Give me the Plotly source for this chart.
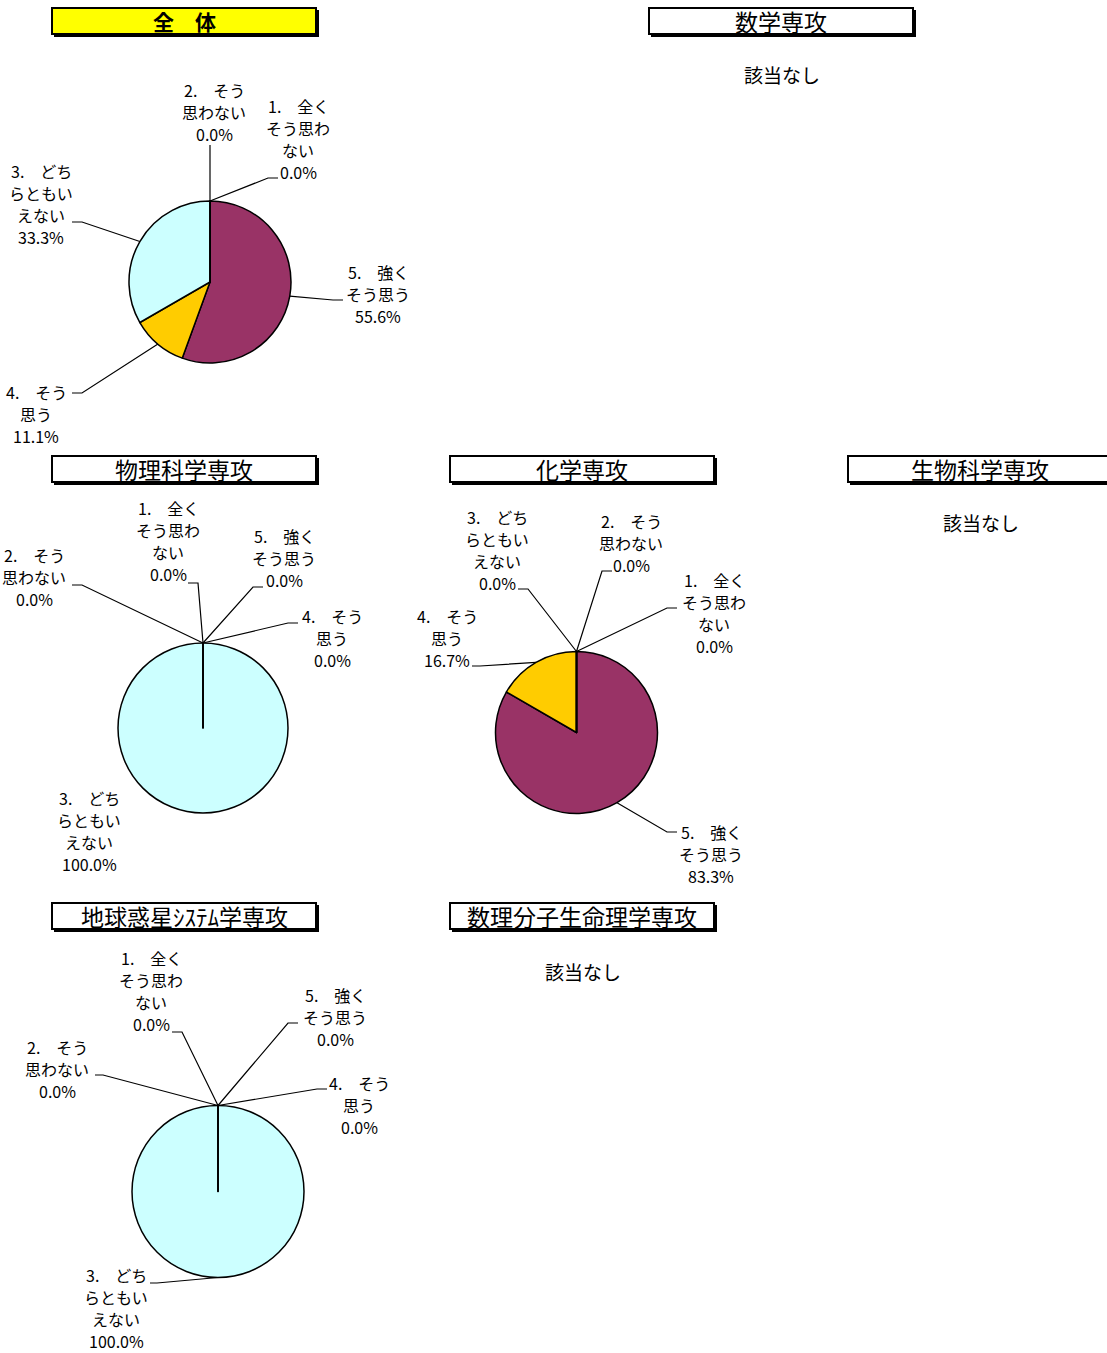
import math
import plotly.graph_objects as go

W, H = 1107, 1353
FONT = "Noto Sans CJK JP"
LINE_H = 22  # label line spacing (px)

# answer categories (questionnaire scale) and their wrapped label lines
categories = ["1.　全くそう思わない", "2.　そう思わない", "3.　どちらともいえない",
              "4.　そう思う", "5.　強くそう思う"]
wrapped = [["1.　全く", "そう思わ", "ない"], ["2.　そう", "思わない"],
           ["3.　どち", "らともい", "えない"], ["4.　そう", "思う"], ["5.　強く", "そう思う"]]
colors = ["#99CCFF", "#FFFF99", "#CCFFFF", "#FFCC00", "#993366"]

# response counts per group, in category order 1..5
counts_all = [0, 0, 3, 1, 5]
counts_phys = [0, 0, 1, 0, 0]
counts_chem = [0, 0, 0, 1, 5]
counts_earth = [0, 0, 2, 0, 0]

titles = ["全　体", "数学専攻", "物理科学専攻", "化学専攻", "生物科学専攻",
          "地球惑星ｼｽﾃﾑ学専攻", "数理分子生命理学専攻"]
no_data = ["数学専攻", "生物科学専攻", "数理分子生命理学専攻"]

# --- layout (pixel positions in the page) ---
title_pos = {"全　体": (51, 7), "数学専攻": (648, 7), "物理科学専攻": (51, 455),
             "化学専攻": (449, 455), "生物科学専攻": (847, 455),
             "地球惑星ｼｽﾃﾑ学専攻": (51, 902), "数理分子生命理学専攻": (449, 902)}
TW, TH = 266, 28

# pie center/radius and label placement: text center, leader elbow, leader end x
pies = [
    dict(counts=counts_all, cx=210, cy=282, r=81, labels={
        0: ((298, 139), (268, 178), 278),
        1: ((214, 112), (210, 145), None),
        2: ((41, 204), (82, 222), 72),
        3: ((36, 414), (82, 393), 72),
        4: ((378, 294), (333, 300), 343)}),
    dict(counts=counts_phys, cx=203, cy=728, r=85, labels={
        0: ((168, 541), (198, 583), 188),
        1: ((34, 577), (82, 585), 72),
        2: ((89, 831), None, None),
        3: ((332, 638), (288, 623), 298),
        4: ((284, 558), (253, 587), 263)}),
    dict(counts=counts_chem, cx=576.5, cy=732.5, r=81, labels={
        0: ((714, 613), (667, 608), 677),
        1: ((631, 543), (602, 571), 612),
        2: ((497, 550), (528, 589), 518),
        3: ((447, 638), (480, 666), 472),
        4: ((711, 854), (667, 832), 677)}),
    dict(counts=counts_earth, cx=218, cy=1191.5, r=86, labels={
        0: ((151, 991), (182, 1032), 172),
        1: ((57, 1069), (103, 1075), 95),
        2: ((116, 1308), (157, 1283), 150),
        3: ((359, 1105), (317, 1089), 327),
        4: ((335, 1017), (288, 1023), 298)}),
]
no_data_pos = {"数学専攻": (782, 75), "生物科学専攻": (981, 523), "数理分子生命理学専攻": (583, 971)}


def px(x):
    return x / W


def py(y):
    return 1 - y / H


def text_at(x, y, text, size):
    return dict(x=px(x), y=py(y), xref="paper", yref="paper", showarrow=False,
                text=text, xanchor="center", yanchor="middle",
                font=dict(family=FONT, size=size, color="black"))


fig = go.Figure()
shapes = []
annotations = []

for p in pies:
    cx, cy, r = p["cx"], p["cy"], p["r"]
    # Excel order: starts at 12 o'clock, clockwise, from category 5 down to 1
    vals = p["counts"][::-1]
    labs = categories[::-1]
    fig.add_trace(go.Pie(
        values=vals, labels=labs, sort=False, direction="clockwise", rotation=0,
        marker=dict(colors=colors[::-1], line=dict(color="black", width=1.5)),
        textinfo="none", hoverinfo="skip", showlegend=False,
        domain=dict(x=[px(cx - r), px(cx + r)], y=[py(cy + r), py(cy - r)]),
    ))
    total = sum(vals)
    cum = 0
    for k, v in enumerate(vals):
        idx = len(vals) - 1 - k
        mid = (cum + v / 2) / total * 2 * math.pi
        cum += v
        ex, ey = cx + r * math.sin(mid), cy - r * math.cos(mid)
        (tx, ty), elbow, end_x = p["labels"][idx]
        lines = wrapped[idx] + [f"{v / total * 100:.1f}%"]
        n = len(lines)
        for i, ln in enumerate(lines):
            annotations.append(text_at(tx, ty + (i - (n - 1) / 2) * LINE_H, ln, 16))
        if elbow is not None:
            path = f"M {px(ex)} {py(ey)} L {px(elbow[0])} {py(elbow[1])}"
            if end_x is not None:
                path += f" L {px(end_x)} {py(elbow[1])}"
            shapes.append(dict(type="path", xref="paper", yref="paper", path=path,
                               line=dict(color="black", width=1.2)))
        if v == total:
            # radius line at slice boundary of a full circle
            shapes.append(dict(type="line", xref="paper", yref="paper",
                               x0=px(cx), y0=py(cy), x1=px(cx), y1=py(cy - r),
                               line=dict(color="black", width=1.5)))

for t in titles:
    x0, y0 = title_pos[t]
    shapes.append(dict(type="rect", xref="paper", yref="paper",
                       x0=px(x0 + 3), y0=py(y0 + 3), x1=px(x0 + TW + 2), y1=py(y0 + TH + 2),
                       fillcolor="black", line=dict(width=0)))
    shapes.append(dict(type="rect", xref="paper", yref="paper",
                       x0=px(x0 + 1), y0=py(y0 + 1), x1=px(x0 + TW - 1), y1=py(y0 + TH - 1),
                       fillcolor="#FFFF00" if t == "全　体" else "white",
                       line=dict(color="black", width=2)))
    if t == "全　体":
        annotations.append(text_at(x0 + TW / 2, y0 + TH / 2, f"<b>{t}</b>", 21))
    else:
        annotations.append(text_at(x0 + TW / 2, y0 + TH / 2, t, 23))

for t in no_data:
    x, y = no_data_pos[t]
    annotations.append(text_at(x, y, "該当なし", 19))

fig.update_layout(
    width=W, height=H, margin=dict(l=0, r=0, t=0, b=0),
    paper_bgcolor="white", plot_bgcolor="white",
    shapes=shapes, annotations=annotations,
)

# drop the default page margin so the figure fills the window from its corner
fig.write_html("out.html", config={"displayModeBar": False},
               post_script="document.body.style.margin='0';")
